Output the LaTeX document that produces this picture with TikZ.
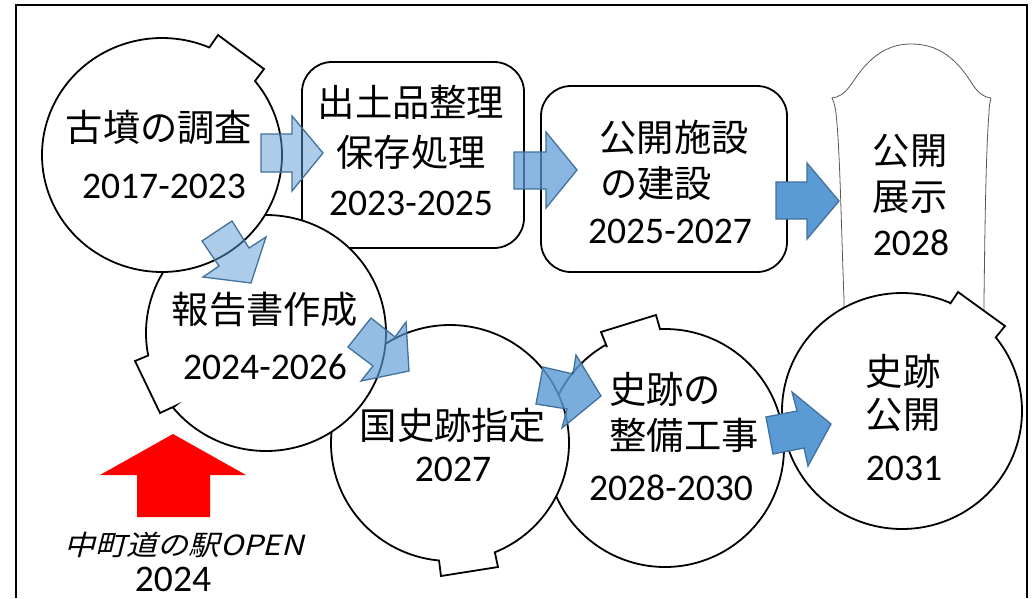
\documentclass[tikz,border=0pt]{standalone}
\usepackage{fontspec}
\setmainfont{Carlito}
\newfontfamily\cjk{Noto Sans CJK JP}
\newfontfamily\cjkslant[FakeSlant=0.25,FakeStretch=1.12]{Noto Sans CJK JP}
\definecolor{arrowfill}{HTML}{5B9BD5}
\definecolor{arrowline}{HTML}{41719C}
\tikzset{
  shapeline/.style={draw=black,line width=1.8pt,fill=white,line join=miter},
  jplabel/.style={anchor=base,inner sep=0pt,font=\fontsize{37.3}{40}\selectfont\cjk},
  yearlabel/.style={anchor=base,inner sep=0pt,font=\fontsize{37.6}{40}\selectfont},
  flowarrow/.style={draw=arrowline,line width=1.3pt,fill=arrowfill,line join=miter},
}
\newcommand{\gapcirc}[7]{%
  \path[shapeline] plot[domain=#5:#6,samples=140,smooth] ({#1+#3*cos(\x)},{#2+#4*sin(\x)}) -- #7 -- cycle;}
\begin{document}
\begin{tikzpicture}[x=1pt,y=-1pt]
\useasboundingbox (0,0) rectangle (1034,598);
\fill[white] (0,0) rectangle (1034,598);
% frame
\draw[black,line width=1.8pt] (16,598) -- (16,5) -- (1027,5) -- (1027,598);
% exhibit shape
\path[draw=black!65,line width=0.8pt,fill=white] (844,350) -- (844,300)
  .. controls (841,220) and (840,150) .. (836,113)
  .. controls (835,106) and (834,102) .. (832,98)
  .. controls (846,96) and (850,85) .. (860,72)
  .. controls (874,54) and (890,44) .. (911,44)
  .. controls (934,44) and (950,54) .. (964,72)
  .. controls (974,85) and (977,96) .. (991,98)
  .. controls (990,102) and (989,106) .. (989,113)
  .. controls (986,150) and (985,220) .. (984,300) -- (984,350) -- cycle;
% circles, back to front
\gapcirc{902}{411}{120}{118}{-38.6}{293.8}{(950,304) -- (958,292) -- (1005,326)}
\gapcirc{665}{448}{119}{119}{-92.4}{240.2}{(607,347) -- (601,332) -- (656,315)}
\gapcirc{450}{443}{119}{118}{95.3}{427.9}{(495,553) -- (498,567) -- (441,576)}
\path[shapeline,rounded corners=30pt] (302,62) rectangle (524,248);
\path[shapeline,rounded corners=30pt] (541,86) rectangle (787,272);
\gapcirc{266}{333}{120}{118}{169}{500.8}{(175,406) -- (160,413) -- (135,361)}
\gapcirc{162}{155}{120}{117}{-39.2}{293.2}{(209,48) -- (218,35) -- (264,69)}
% flow arrows
\path[flowarrow,fill opacity=0.5] (261,134) -- (292,134) -- (292,116) -- (323,153) -- (292,191) -- (292,172) -- (261,172) -- cycle;
\path[flowarrow,fill opacity=0.72] (514,152) -- (546,152) -- (546,132) -- (577,170) -- (546,208) -- (546,189) -- (514,189) -- cycle;
\path[flowarrow] (776,182) -- (807,182) -- (807,163) -- (839,201) -- (807,239) -- (807,219) -- (776,219) -- cycle;
\path[flowarrow,fill opacity=0.5] (202,241) -- (232,221) -- (249,248) -- (266,237) -- (251,283) -- (203,277) -- (219,266) -- cycle;
\path[flowarrow,fill opacity=0.65] (348,347) -- (371,318) -- (395,337) -- (406,322) -- (409,371) -- (361,381) -- (373,366) -- cycle;
\path[flowarrow,fill opacity=0.82] (543,367) -- (573,374) -- (576,355) -- (601,396) -- (562,428) -- (567,409) -- (536,404) -- cycle;
\path[flowarrow] (766,417) -- (797,411) -- (792,392) -- (831,424) -- (808,466) -- (804,448) -- (773,454) -- cycle;
% red arrow
\fill[red] (173,434) -- (246,475) -- (210,475) -- (210,517) -- (137,517) -- (137,475) -- (100,475) -- cycle;
% labels
\node[jplabel] (t1a) at (159,141) {古墳の調査};
\node[yearlabel] (t1b) at (164,198) {2017-2023};
\node[jplabel] (t2a) at (411,116) {出土品整理};
\node[jplabel] (t2b) at (411,166) {保存処理};
\node[yearlabel] (t2c) at (411,215) {2023-2025};
\node[jplabel] (t3a) at (674,151) {公開施設};
\node[jplabel] (t3b) at (656,197) {の建設};
\node[yearlabel] (t3c) at (670,243) {2025-2027};
\node[jplabel] (t4a) at (910,164) {公開};
\node[jplabel] (t4b) at (910,210) {展示};
\node[yearlabel] (t4c) at (911,255) {2028};
\node[jplabel] (t5a) at (265,323) {報告書作成};
\node[yearlabel] (t5b) at (265,379) {2024-2026};
\node[jplabel] (t6a) at (453,439) {国史跡指定};
\node[yearlabel] (t6b) at (453,481) {2027};
\node[jplabel] (t7a) at (665,403) {史跡の};
\node[jplabel] (t7b) at (684,449) {整備工事};
\node[yearlabel] (t7c) at (671,500) {2028-2030};
\node[jplabel] (t8a) at (903,385) {史跡};
\node[jplabel] (t8b) at (903,428) {公開};
\node[yearlabel] (t8c) at (904,480) {2031};
\node[anchor=base,inner sep=0pt,font=\fontsize{27.8}{30}\selectfont\cjkslant] (t9a) at (184,555) {中町道の駅OPEN};
\node[yearlabel] (t9b) at (173,591) {2024};
\end{tikzpicture}
\end{document}
